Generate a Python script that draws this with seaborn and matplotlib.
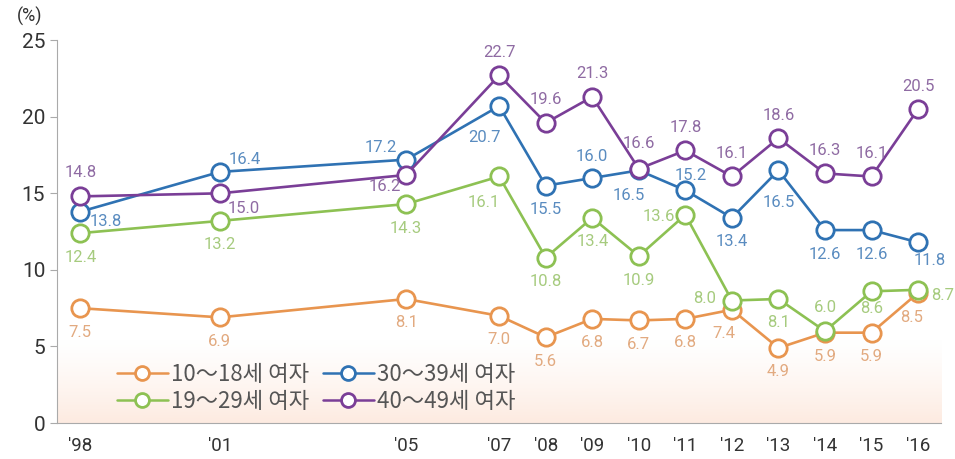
import seaborn as sns
import numpy as np
import pandas as pd
import matplotlib.pyplot as plt

years = [1998, 2001, 2005, 2007, 2008, 2009, 2010, 2011, 2012, 2013, 2014, 2015, 2016]
year_labels = ["'98", "'01", "'05", "'07", "'08", "'09", "'10", "'11", "'12", "'13", "'14", "'15", "'16"]
groups = ['10～18세 여자', '19～29세 여자', '30～39세 여자', '40～49세 여자']
g10 = [7.5, 6.9, 8.1, 7.0, 5.6, 6.8, 6.7, 6.8, 7.4, 4.9, 5.9, 5.9, 8.5]
g19 = [12.4, 13.2, 14.3, 16.1, 10.8, 13.4, 10.9, 13.6, 8.0, 8.1, 6.0, 8.6, 8.7]
g30 = [13.8, 16.4, 17.2, 20.7, 15.5, 16.0, 16.5, 15.2, 13.4, 16.5, 12.6, 12.6, 11.8]
g40 = [14.8, 15.0, 16.2, 22.7, 19.6, 21.3, 16.6, 17.8, 16.1, 18.6, 16.3, 16.1, 20.5]

# label offsets in pixels (dx, dy), dy up positive
off10 = [(0, -24)] * 8 + [(-8, -24), (0, -24), (0, -24), (0, -24), (-7, -25)]
off19 = [(0, -24), (0, -24), (0, -24), (-15, -26), (0, -24), (0, -24), (0, -24),
         (-27, -2), (-27, 2), (0, -24), (0, 24), (0, -17), (25, -6)]
off30 = [(25, -10), (25, 12), (-25, 12), (-15, -31), (0, -24), (0, 22), (-10, -25),
         (5, 15), (0, -24), (0, -32), (0, -24), (0, -24), (12, -18)]
off40 = [(0, 24), (24, -15), (-21, -12), (0, 23), (0, 23), (0, 23), (0, 25),
         (0, 23), (0, 23), (0, 23), (0, 23), (0, 23), (0, 23)]

line_colors = ['#E8954F', '#8DC153', '#2F72B3', '#7A3E97']
text_colors = ['#E2AA80', '#A6CB7E', '#5A8CC0', '#8F6BA3']

df = pd.DataFrame({'year': years * 4,
                   'value': g10 + g19 + g30 + g40,
                   'group': sum([[g] * len(years) for g in groups], [])})

sns.set_style('white')
plt.rcParams['font.family'] = ['Noto Sans CJK KR', 'DejaVu Sans']

fig = plt.figure(figsize=(9.55, 4.59), dpi=100)
ax = fig.add_axes([0.0597, 0.0784, 0.926, 0.834])

# soft gradient band near the bottom
grad = np.linspace(1, 0, 100).reshape(-1, 1) ** 1.3
ax.imshow(np.dstack([np.full((100, 1), c) for c in (0.99, 0.87, 0.80)] + [grad * 0.6]),
          extent=[1997.5, 2016.5, 0, 5.5], aspect='auto', zorder=0, origin='lower')

sns.lineplot(data=df, x='year', y='value', hue='group', hue_order=groups,
             palette=line_colors, marker='o', markersize=12.5, markerfacecolor='white',
             markeredgewidth=2, linewidth=1.9, ax=ax, legend=True, zorder=3)
for ln in ax.lines:
    ln.set_markeredgecolor(ln.get_color())

for vals, offs, tc in zip([g10, g19, g30, g40], [off10, off19, off30, off40], text_colors):
    for x, v, (dx, dy) in zip(years, vals, offs):
        ax.annotate(f'{v:.1f}', (x, v), xytext=(dx * 0.72, dy * 0.72), textcoords='offset points',
                    ha='center', va='center', fontsize=12, color=tc, zorder=5,
                    family=['Roboto', 'DejaVu Sans'])

ax.set_xlim(1997.5, 2016.5)
ax.set_ylim(0, 25)
ax.set_yticks([0, 5, 10, 15, 20, 25])
ax.set_xticks(years)
ax.set_xticklabels(year_labels)
ax.set_xticks(np.arange(1997.5, 2017, 1), minor=True)
ax.tick_params(axis='x', which='major', length=0, pad=10, labelsize=13.5, colors='#333333')
ax.tick_params(axis='x', which='minor', length=6, width=0.8, color='#aaaaaa', direction='out')
ax.tick_params(axis='y', length=5, width=0.8, color='#aaaaaa', labelsize=15, labelcolor='#333333', left=True)
for lab in ax.get_xticklabels() + ax.get_yticklabels():
    lab.set_family(['Roboto', 'DejaVu Sans'])
ax.set_xlabel('')
ax.set_ylabel('')
for s in ['top', 'right']:
    ax.spines[s].set_visible(False)
for s in ['left', 'bottom']:
    ax.spines[s].set_color('#aaaaaa')
    ax.spines[s].set_linewidth(0.8)

fig.text(0.018, 0.965, '(%)', fontsize=13, color='#333333', va='center', family=['Roboto', 'DejaVu Sans'])

leg = ax.legend(loc='lower left', bbox_to_anchor=(0.045, -0.025), ncol=2, frameon=False,
                fontsize=16, handlelength=2.3, handletextpad=0.15, columnspacing=0.6,
                labelspacing=0.15, labelcolor='#555555')
for h in leg.legend_handles:
    h.set_markerfacecolor('white')
    h.set_markeredgecolor(h.get_color())
    h.set_markersize(10)
    h.set_linewidth(1.8)

fig.savefig('out.png', dpi=100)
